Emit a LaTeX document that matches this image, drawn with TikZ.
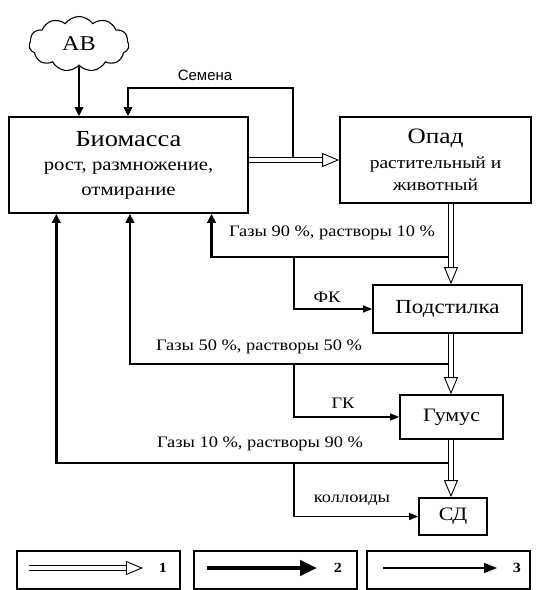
\documentclass[tikz,border=0pt]{standalone}
\usepackage{fontspec}
\setmainfont[FakeStretch=1.15]{Liberation Serif}
\newfontfamily\semfont{Liberation Sans}
\usetikzlibrary{shapes.symbols,arrows.meta,calc}
\newcommand{\harrow}[2]{%
  \draw[line width=0.9pt, double=white, double distance=4.5pt, shorten >=17pt] (#1) -- (#2);
  \draw[line width=0.9pt, -{Triangle[open, length=17pt, width=14pt]}] ($(#2)!17pt!(#1)$) -- (#2);
}
\begin{document}
\begin{tikzpicture}[x=1pt,y=-1pt,
  box/.style={draw, line width=1.7pt, inner sep=0pt, align=center},
  thickarr/.style={line width=2.7pt, -{Triangle[length=9pt,width=8.5pt]}},
  thinarr/.style={line width=1.1pt, -{Triangle[length=9pt,width=7pt]}},
  lbl/.style={font=\fontsize{16}{18}\selectfont, inner sep=0pt},
  legbox/.style={draw, line width=1.1pt, minimum width=163pt, minimum height=38pt, inner sep=0pt},
  legnum/.style={font=\fontsize{14}{16}\selectfont\bfseries, inner sep=0pt},
]
\useasboundingbox (0,0) rectangle (538,590);

% cloud
\node[draw, cloud, cloud puffs=11, cloud puff arc=110, aspect=1.9,
      minimum width=100pt, minimum height=55pt, line width=1.1pt,
      font=\fontsize{21}{24}\selectfont] (av) at (79,44) {АВ};

% boxes
\node[box, minimum width=239pt, minimum height=96pt, font=\fontsize{18}{24.5}\selectfont] (bio) at (128.5,165)
  {{\fontsize{23}{27}\selectfont Биомасса}\\
   рост, размножение,\\
   отмирание};
\node[box, minimum width=191pt, minimum height=86pt, font=\fontsize{17}{22}\selectfont] (opad) at (435.5,160)
  {{\fontsize{22}{25}\selectfont Опад}\\[3pt]
   растительный и\\
   животный};
\node[box, minimum width=149pt, minimum height=48pt, font=\fontsize{20}{22}\selectfont] (podst) at (447.5,309) {Подстилка};
\node[box, minimum width=103pt, minimum height=44pt, font=\fontsize{19}{21}\selectfont] (gumus) at (451.5,417) {Гумус};
\node[box, minimum width=68pt, minimum height=37pt, font=\fontsize{19}{21}\selectfont] (sd) at (453,516.5) {СД};

% coordinates
\coordinate (dx) at (451,0);
\coordinate (dy) at (0,160);
\coordinate (s1) at (293,157.5);
\coordinate (s2) at (128,88);
\coordinate (g1) at (448,257);
\coordinate (g2) at (448,364);
\coordinate (g3) at (448,463);
\coordinate (f1) at (294,257);
\coordinate (f2) at (294,364);
\coordinate (f3) at (294,463);

% double arrows
\coordinate (d1a) at (bio.east |- dy);
\coordinate (d1b) at (opad.west |- dy);
\coordinate (d2a) at (opad.south -| dx);
\coordinate (d2b) at (podst.north -| dx);
\coordinate (d3a) at (podst.south -| dx);
\coordinate (d3b) at (gumus.north -| dx);
\coordinate (d4a) at (gumus.south -| dx);
\coordinate (d4b) at (sd.north -| dx);
\harrow{d1a}{d1b}
\harrow{d2a}{d2b}
\harrow{d3a}{d3b}
\harrow{d4a}{d4b}

% thick arrows
\draw[thickarr] (av.south) -- (av.south |- bio.north);
\draw[thickarr] (s1) |- (s2) -- (s2 |- bio.north);
\draw[thickarr] (g1) -| ($(bio.south west)!0.845!(bio.south east)$);
\draw[thickarr] (g2) -| ($(bio.south west)!0.506!(bio.south east)$);
\draw[thickarr] (g3) -| ($(bio.south west)!0.2!(bio.south east)$);

% thin arrows
\draw[thinarr] (f1) |- (podst.west);
\draw[thinarr] (f2) |- (gumus.west);
\draw[thinarr] (f3) |- (sd.west);

% labels
\node[inner sep=0pt, font=\semfont\fontsize{15}{17}\selectfont] at (205,75) {Семена};
\node[lbl] at (332,233) {Газы 90 \%, растворы 10 \%};
\node[lbl] at (259,347) {Газы 50 \%, растворы 50 \%};
\node[lbl] at (260,444) {Газы 10 \%, растворы 90 \%};
\node[lbl] at (327,297) {ФК};
\node[lbl] at (343,403) {ГК};
\node[lbl] at (352,500) {коллоиды};

% legend
\node[legbox] (l1) at (98.5,570) {};
\node[legbox] (l2) at (275.5,570) {};
\node[legbox] (l3) at (448.5,570) {};
\coordinate (a1s) at (29,568);  \coordinate (a1e) at (143,568);
\coordinate (a2s) at (207,568); \coordinate (a2e) at (317,568);
\coordinate (a3s) at (383,568); \coordinate (a3e) at (497,568);
\harrow{a1s}{a1e}
\draw[line width=4.5pt, -{Triangle[length=17pt,width=15pt]}] (a2s) -- (a2e);
\draw[line width=1.3pt, -{Triangle[length=13pt,width=10pt]}] (a3s) -- (a3e);
\node[legnum] at (163,568) {1};
\node[legnum] at (338,568) {2};
\node[legnum] at (517,568) {3};
\end{tikzpicture}
\end{document}
